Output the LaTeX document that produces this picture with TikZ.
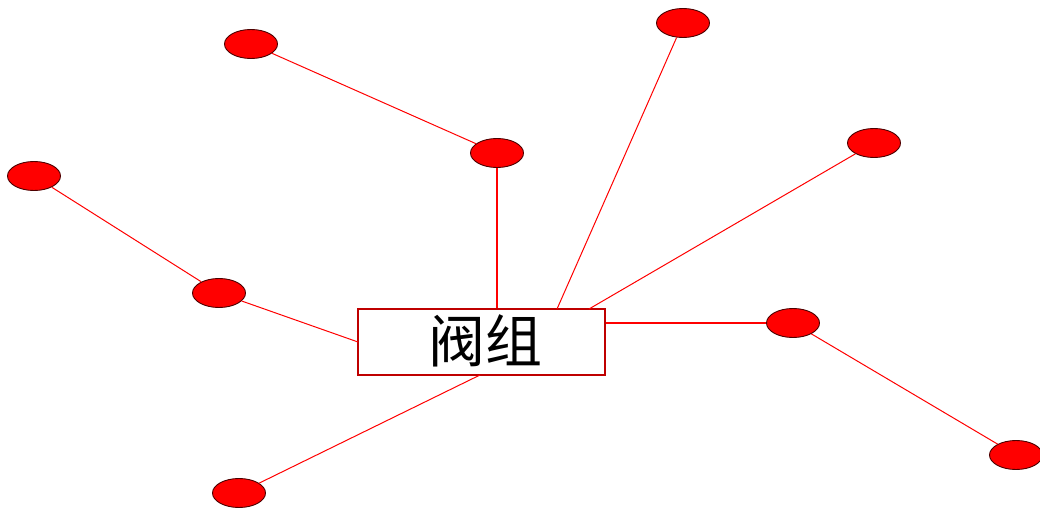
\documentclass[tikz,border=0pt]{standalone}
\usepackage{fontspec}
\newfontfamily\cjk{Noto Sans CJK SC}
\usetikzlibrary{shapes.geometric}
\begin{document}
\begin{tikzpicture}[x=1pt,y=-1pt,
  dot/.style={ellipse,draw=black!70!red,line width=0.9pt,fill=red,minimum width=53pt,minimum height=29pt,inner sep=0pt},
  link/.style={draw=red,line width=1pt},
  straight/.style={draw=red,line width=2pt},
  box/.style={draw=red!75!black,line width=1.1pt,fill=white,minimum width=247pt,minimum height=66pt,inner sep=0pt}]
\useasboundingbox (0,0) rectangle (1040,513);
\node[box] (box) at (481.5,342) {};
\node (lbl) at (485,341) {\cjk\fontsize{57}{60}\selectfont 阀组};
\node[dot] (A) at (251,44) {};
\node[dot] (B) at (497,153) {};
\node[dot] (C) at (683,23) {};
\node[dot] (D) at (874,143) {};
\node[dot] (E) at (34,176) {};
\node[dot] (F) at (219,293) {};
\node[dot] (G) at (793,323) {};
\node[dot] (H) at (1016,455) {};
\node[dot] (I) at (239,493) {};
\coordinate (cC) at (557,309);
\coordinate (cD) at (589,309);
\coordinate (cF) at (358,342);
\coordinate (cI) at (480,375);
\path[link] (A) -- (B);
\path[straight] (B.south) -- (B |- box.north);
\path[link] (C) -- (cC);
\path[link] (D) -- (cD);
\path[link] (E) -- (F);
\path[link] (F) -- (cF);
\path[straight] (box.east |- G) -- (G.west);
\path[link] (G) -- (H);
\path[link] (cI) -- (I);
\end{tikzpicture}
\end{document}
